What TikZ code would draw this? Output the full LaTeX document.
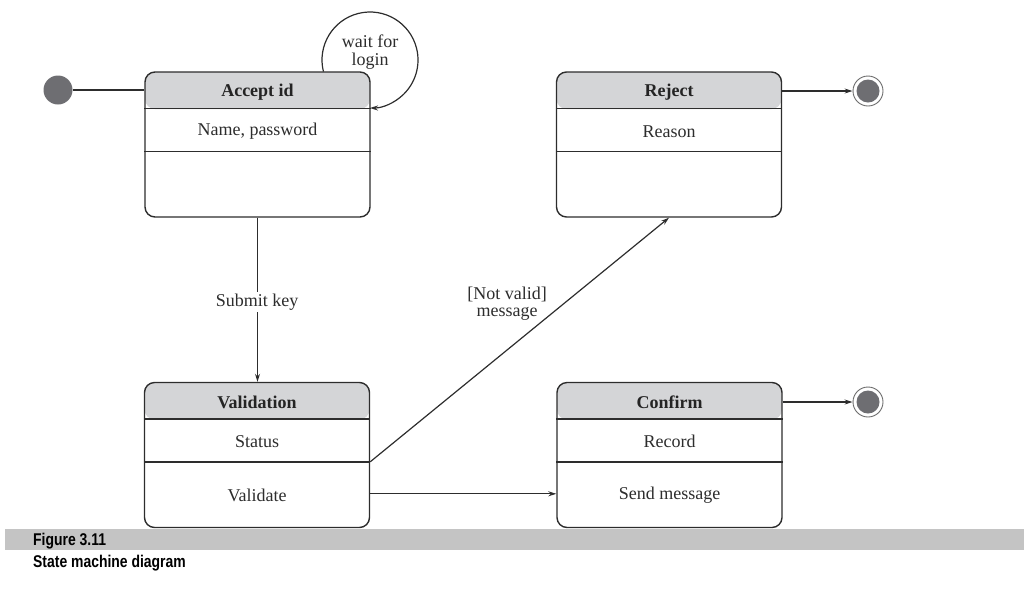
\documentclass[tikz,border=0pt]{standalone}
\usepackage{fontspec}
\setmainfont{Liberation Serif}
\newfontfamily\capfont[FakeStretch=0.82]{Liberation Sans}
\usetikzlibrary{arrows.meta,calc}
\definecolor{linec}{RGB}{45,45,45}
\definecolor{hdrc}{RGB}{212,213,215}
\definecolor{dotc}{RGB}{110,110,114}
\definecolor{barc}{RGB}{196,196,196}
\begin{document}
\begin{tikzpicture}[x=1pt,y=-1pt,
  font=\fontsize{18}{18}\selectfont,
  >={Stealth[length=8pt,width=5pt]},
  statebox/.style={draw=linec, line width=1.4pt, rounded corners=10pt,
    minimum width=225pt, minimum height=145pt, inner sep=0pt, fill=white,
    path picture={\fill[hdrc] (path picture bounding box.north west) rectangle ([yshift=-37pt]path picture bounding box.north east);}},
  divider/.style={draw=linec, line width=1.4pt},
  conn/.style={draw=linec, line width=1.2pt},
  hdrtext/.style={font=\fontsize{18}{18}\selectfont\bfseries, text=linec!80!black, inner sep=0pt},
  rowtext/.style={text=linec, inner sep=0pt},
  initdot/.style={circle, fill=dotc, minimum size=29pt, inner sep=0pt},
  finaldot/.style={circle, draw=linec!70, line width=0.9pt, fill=white, minimum size=30pt, inner sep=0pt,
    path picture={\fill[dotc] (path picture bounding box.center) circle (11.5pt);}},
  captext/.style={font=\fontsize{17}{17}\capfont\bfseries, inner sep=0pt, anchor=west, text=black}
]
\useasboundingbox (0,0) rectangle (1024,590);

% states
\node[statebox] (acc) at (257.5,144.5) {};
\node[statebox] (rej) at (669,144.5) {};
\node[statebox] (val) at (257,455) {};
\node[statebox] (con) at (669.5,455) {};

\foreach \s in {acc,rej,val,con}{
  \draw[divider] ([yshift=-37pt]\s.north west) -- ([yshift=-37pt]\s.north east);
  \draw[divider] ([yshift=-80pt]\s.north west) -- ([yshift=-80pt]\s.north east);
}

% texts
\node[hdrtext] (acc-t) at ([yshift=-20.5pt]acc.north) {Accept id};
\node[rowtext] (acc-r1) at ([yshift=-60pt]acc.north) {Name, password};
\node[hdrtext] (rej-t) at ([yshift=-20.5pt]rej.north) {Reject};
\node[rowtext] (rej-r1) at ([yshift=-60pt]rej.north) {Reason};
\node[hdrtext] (val-t) at ([yshift=-20.5pt]val.north) {Validation};
\node[rowtext] (val-r1) at ([yshift=-60pt]val.north) {Status};
\node[rowtext] (val-r2) at ([yshift=-113.5pt]val.north) {Validate};
\node[hdrtext] (con-t) at ([yshift=-20.5pt]con.north) {Confirm};
\node[rowtext] (con-r1) at ([yshift=-60pt]con.north) {Record};
\node[rowtext] (con-r2) at ([yshift=-113.5pt]con.north) {Send message};

% initial and final states
\node[initdot] (init) at (58,90) {};
\node[finaldot] (end1) at (868,91) {};
\node[finaldot] (end2) at (868,402) {};

\draw[conn] (init) -- (init -| acc.west);
\draw[conn,->] (end1 -| rej.east) -- (end1);
\draw[conn,->] (end2 -| con.east) -- (end2);

% self loop
\coordinate (loopc) at (370,60);
\draw[conn,->] ([shift={(194:48pt)}]loopc) arc[start angle=194,end angle=-90,radius=48pt];
\node[rowtext, align=center, font=\fontsize{18}{18}\selectfont] (wait) at (370,52.5) {wait for\\login};

% transitions
\draw[conn,->] (acc.south) -- (acc.south |- val.north);
\node[rowtext, fill=white, inner sep=2pt] (sk) at (257,302) {Submit key};

\coordinate (vstart) at ([yshift=-80pt]val.north east);
\draw[conn,->] (vstart) -- (rej.south);
\node[rowtext, align=center, font=\fontsize{18}{17}\selectfont] (nv) at (507,304) {[Not valid]\\message};

\draw[conn,->] ([yshift=-112pt]val.north east) -- ([yshift=-112pt]con.north west);

% caption
\node[fill=barc, minimum width=1019pt, minimum height=21pt, inner sep=0pt, anchor=north west] (bar) at (5,529) {};
\node[captext] (cap1) at (33,541) {Figure 3.11};
\node[captext] (cap2) at (33,563) {State machine diagram};
\end{tikzpicture}
\end{document}
